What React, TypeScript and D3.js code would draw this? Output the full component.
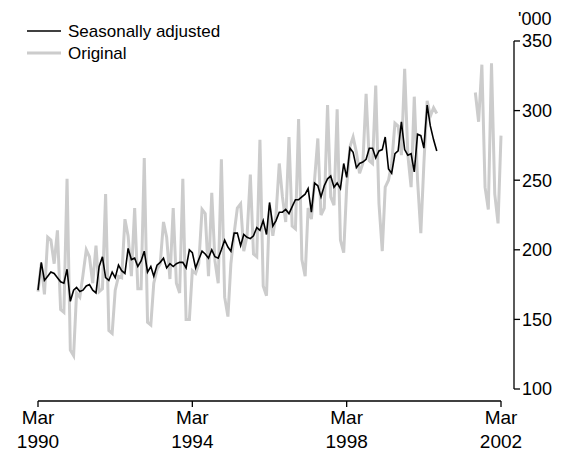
import React from "react";
import * as d3 from "d3";

// Monthly series starting Mar 1990 ('000)
const saStart = [1990, 2]; // year, monthIndex (Mar)
const seasonallyAdjusted = [
  171, 191, 178, 181, 184, 183, 180, 177, 176, 186, 163, 171,
  173, 170, 171, 174, 175, 171, 169, 188, 195, 180, 178, 184,
  180, 189, 185, 183, 201, 193, 194, 188, 192, 199, 184, 188,
  181, 189, 191, 194, 187, 190, 188, 190, 191, 191, 187, 200,
  198, 187, 193, 199, 197, 194, 200, 195, 194, 200, 207, 202,
  199, 212, 212, 203, 211, 209, 208, 210, 216, 214, 221, 211,
  234, 217, 221, 227, 227, 229, 226, 231, 236, 236, 238, 240,
  244, 227, 248, 246, 238, 246, 251, 253, 245, 248, 244, 262,
  252, 273, 270, 259, 262, 263, 265, 273, 273, 266, 271, 272,
  281, 258, 255, 269, 271, 292, 272, 268, 269, 256, 283, 282,
  273, 304, 289, 279, 271,
];
const original = [
  170, 190, 168, 209, 207, 190, 214, 157, 155, 251, 128, 124,
  169, 166, 182, 200, 195, 176, 203, 170, 172, 240, 142, 140,
  171, 181, 180, 222, 210, 181, 230, 172, 172, 266, 148, 146,
  176, 186, 190, 220, 209, 179, 230, 176, 169, 251, 150, 150,
  185, 183, 190, 229, 226, 181, 241, 192, 176, 265, 166, 152,
  190, 212, 230, 233, 199, 210, 254, 197, 195, 279, 174, 167,
  232, 210, 225, 262, 238, 220, 281, 217, 215, 294, 193, 181,
  230, 222, 250, 280, 225, 230, 304, 238, 232, 301, 207, 198,
  245, 274, 281, 270, 255, 262, 312, 264, 262, 318, 233, 199,
  245, 250, 262, 291, 289, 268, 330, 268, 245, 310, 250, 212,
  262, 307, 296, 302, 298,
];
const original2Start = [2001, 6]; // Jul 2001
const original2 = [313, 292, 333, 245, 229, 334, 240, 219, 282];

const xTicks = [
  [1990, 2],
  [1994, 2],
  [1998, 2],
  [2002, 2],
];
const xTickLabels = [
  ["Mar", "1990"],
  ["Mar", "1994"],
  ["Mar", "1998"],
  ["Mar", "2002"],
];
const yTicks = [100, 150, 200, 250, 300, 350];
const legendLabels = ["Seasonally adjusted", "Original"];
const unitLabel = "'000";

const toSeries = (start: number[], vals: number[]) =>
  vals.map((v, k) => ({ date: new Date(start[0], start[1] + k, 1), v }));

export default function App() {
  const W = 573;
  const H = 457;
  const font = "'Liberation Sans', Arial, sans-serif";
  const x = d3
    .scaleTime()
    .domain([new Date(1990, 2, 1), new Date(2002, 2, 1)])
    .range([38, 501]);
  const y = d3.scaleLinear().domain([100, 350]).range([389, 41]);
  const line = d3
    .line<{ date: Date; v: number }>()
    .x((d) => x(d.date))
    .y((d) => y(d.v));

  const sa = toSeries(saStart, seasonallyAdjusted);
  const o1 = toSeries(saStart, original);
  const o2 = toSeries(original2Start, original2);

  const axisY = 401;
  const yAxisX = 514;
  const gray = "#cccccc";

  return (
    <svg
      width={W}
      height={H}
      style={{ position: "absolute", left: 0, top: 0, background: "#fff" }}
      fontFamily={font}
    >
      {/* Original */}
      <path d={line(o1) || ""} fill="none" stroke={gray} strokeWidth={3} />
      <path d={line(o2) || ""} fill="none" stroke={gray} strokeWidth={3} />
      {/* Seasonally adjusted */}
      <path d={line(sa) || ""} fill="none" stroke="#000" strokeWidth={1.6} />

      {/* X axis */}
      <line x1={x(new Date(1990, 2, 1))} x2={x(new Date(2002, 2, 1))} y1={axisY} y2={axisY} stroke="#000" strokeWidth={1.3} />
      {xTicks.map((t, k) => {
        const xx = x(new Date(t[0], t[1], 1));
        return (
          <g key={k}>
            <line x1={xx} x2={xx} y1={axisY} y2={axisY + 6} stroke="#000" strokeWidth={1.3} />
            <text x={xx} y={424} textAnchor="middle" fontSize={19}>
              {xTickLabels[k][0]}
            </text>
            <text x={xx} y={448} textAnchor="middle" fontSize={19}>
              {xTickLabels[k][1]}
            </text>
          </g>
        );
      })}

      {/* Y axis */}
      <line x1={yAxisX} x2={yAxisX} y1={y(350)} y2={y(100)} stroke="#000" strokeWidth={1.3} />
      {yTicks.map((t) => (
        <g key={t}>
          <line x1={yAxisX} x2={yAxisX + 6} y1={y(t)} y2={y(t)} stroke="#000" strokeWidth={1.3} />
          <text x={yAxisX + 8} y={y(t)} dy="0.35em" fontSize={18}>
            {t}
          </text>
        </g>
      ))}
      <text x={518} y={25} fontSize={18}>
        {unitLabel}
      </text>

      {/* Legend */}
      <line x1={27} x2={61} y1={31} y2={31} stroke="#000" strokeWidth={1.6} />
      <text x={68} y={31} dy="0.35em" fontSize={17}>
        {legendLabels[0]}
      </text>
      <line x1={27} x2={61} y1={53} y2={53} stroke={gray} strokeWidth={3} />
      <text x={68} y={53} dy="0.35em" fontSize={17}>
        {legendLabels[1]}
      </text>
    </svg>
  );
}
